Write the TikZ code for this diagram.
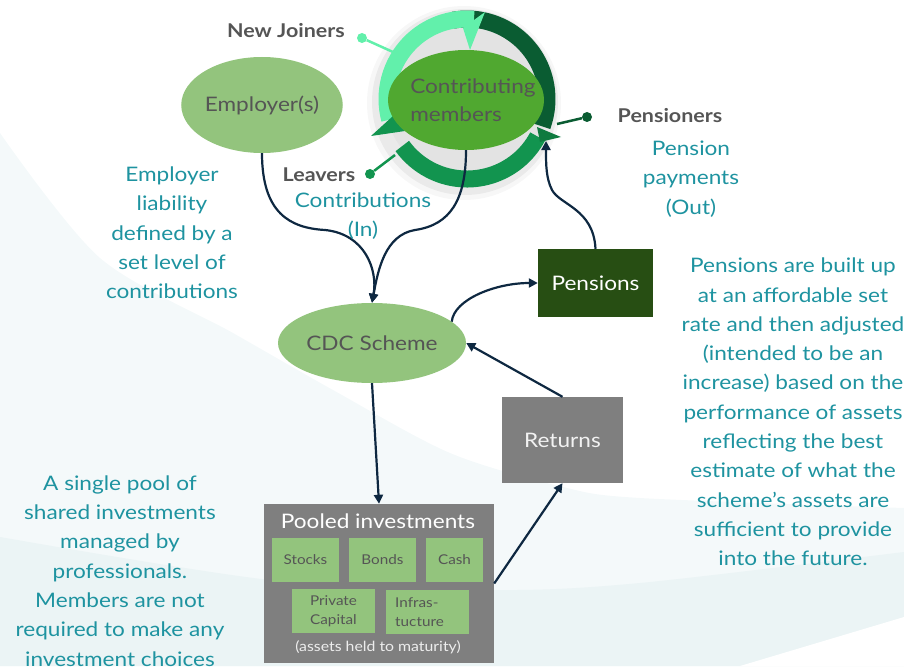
\documentclass[tikz,border=0pt]{standalone}
\usepackage{fontspec}
\setmainfont[FakeStretch=1.13]{Lato}
\usetikzlibrary{arrows.meta,shapes.geometric,calc}

\definecolor{bgA}{HTML}{F4F9FA}
\definecolor{bgB}{HTML}{EBF4F5}
\definecolor{noteTeal}{HTML}{1E93A0}
\definecolor{tagGray}{HTML}{555555}
\definecolor{leafGreen}{HTML}{93C47D}
\definecolor{memberGreen}{HTML}{50A830}
\definecolor{pensionGreen}{HTML}{274E13}
\definecolor{boxGray}{HTML}{7F7F7F}
\definecolor{flowNavy}{HTML}{0E2841}
\definecolor{ringMint}{HTML}{62F0AB}
\definecolor{ringDark}{HTML}{0A5C32}
\definecolor{ringMid}{HTML}{12944F}
\definecolor{ringHead}{HTML}{0E7A3F}
\definecolor{discGray}{HTML}{E3E3E3}

\begin{document}
\begin{tikzpicture}[x=1pt,y=-1pt,
  flow/.style={draw=flowNavy, line width=2.2pt, -{Triangle[length=9pt,width=9pt]}},
  note/.style={text=noteTeal, font=\fontsize{20}{29.3}\selectfont, align=center},
  tag/.style={text=tagGray, font=\bfseries\fontsize{19}{22}\selectfont},
  bubble/.style={ellipse, fill=leafGreen, text=tagGray, inner sep=0pt,
    font=\fontsize{20}{28}\selectfont},
  block/.style={rectangle, inner sep=0pt, font=\fontsize{20}{24}\selectfont},
  asset/.style={rectangle, fill=leafGreen, text=tagGray, inner sep=0pt,
    minimum height=44pt, font=\fontsize{13.5}{19}\selectfont, align=center},
  ringband/.style={line width=17pt},
  pin/.style={circle, inner sep=0pt, minimum size=10pt}
]
\useasboundingbox (0,0) rectangle (904,666);

% soft background bands
\fill[bgA] (0,133) plot[smooth] coordinates {(0,133) (100,258) (233,333) (333,390) (450,453) (563,487) (640,498) (904,508)}
  -- (904,666) -- (0,666) -- cycle;
\fill[bgB] (0,537) plot[smooth] coordinates {(0,537) (270,580) (493,590) (640,583) (904,552)}
  -- (904,666) -- (0,666) -- cycle;
\fill[white] (740,666) -- (904,617) -- (904,666) -- cycle;

% member cycle ring
\coordinate (ringc) at (467,99);
\fill[black, opacity=0.03] ($(ringc)+(-3,4)$) circle[radius=97];
\fill[black, opacity=0.05] ($(ringc)+(-2,3)$) circle[radius=93];
\fill[discGray] (ringc) circle[radius=82];
\draw[ringDark, ringband] ($(ringc)+(-100:80)$) arc[start angle=-100, end angle=20, radius=80];
\draw[ringMid, ringband] ($(ringc)+(28:80)$) arc[start angle=28, end angle=144, radius=80];
\draw[ringMint, ringband] ($(ringc)+(-195:80)$) arc[start angle=-195, end angle=-85, radius=80];
\fill[ringMint] (463,28) -- (485,12) -- (470,50) -- cycle;
\fill[ringHead] (537,127) -- (561,137) -- (540,142) -- cycle;
\fill[ringMid] (371,136) -- (393,116) -- (405,131) -- cycle;

% main nodes
\node[bubble, minimum width=160pt, minimum height=96pt] (emp) at (262,105) {Employer(s)};
\node[bubble, fill=memberGreen, minimum width=156pt, minimum height=100pt] (mem) at (466,100) {};
\node[text=tagGray, font=\fontsize{20}{28}\selectfont, align=left] at (473,100) {Contributing\\members};
\node[bubble, minimum width=188pt, minimum height=80pt] (cdc) at (372,343) {CDC Scheme};
\node[block, fill=pensionGreen, text=white, minimum width=115pt, minimum height=68pt] (pen) at (595.5,283) {Pensions};
\node[block, fill=boxGray, text=white!95!black, minimum width=121pt, minimum height=86pt] (ret) at (562.5,440) {Returns};
\node[block, fill=boxGray, minimum width=230pt, minimum height=159pt] (pool) at (379,583.5) {};
\node[text=white, font=\fontsize{20}{24}\selectfont] (pooltitle) at (378,521) {Pooled investments};
\node[asset, minimum width=67pt] (stocks) at (305.5,560) {Stocks};
\node[asset, minimum width=67pt] (bonds) at (382.5,560) {Bonds};
\node[asset, minimum width=57pt] (cash) at (454.5,560) {Cash};
\node[asset, minimum width=83pt] (private) at (333.5,611) {Private\\Capital};
\node[asset, minimum width=83pt, align=left] (infra) at (427.5,612) {Infras-\\tucture\hspace*{16pt}};
\node[text=white!93!black, font=\fontsize{14}{18}\selectfont] (maturity) at (378,647) {(assets held to maturity)};

% member cycle tags
\node[pin, fill=ringMint] (njdot) at (362,38) {};
\coordinate (njend) at (393,52);
\draw[ringMint, line width=2.5pt] (njdot) -- (njend);
\node[tag] (nj) at (286,31) {New Joiners};

\node[pin, fill=ringMid] (lvdot) at (370,174) {};
\coordinate (lvend) at (395,155);
\draw[ringMid, line width=2.5pt] (lvdot) -- (lvend);
\node[tag] (lv) at (319,175) {Leavers};

\node[pin, fill=ringDark] (psdot) at (587,117) {};
\coordinate (psend) at (557,124);
\draw[ringDark, line width=2.5pt] (psdot) -- (psend);
\node[tag] (ps) at (670,116) {Pensioners};

% flows
\draw[flow] (emp.south) .. controls +(0,60) and (290,228) .. (325,230)
  .. controls (365,234) and (378,270) .. (cdc.north);
\draw[flow] (mem.south) .. controls +(0,50) and (450,225) .. (415,230)
  .. controls (385,235) and (378,270) .. (cdc.north);
\draw[flow] (cdc.15) .. controls +(2,-22) and (495,283) .. (pen.west);
\coordinate (memin) at (546,141);
\draw[flow] (pen.north) .. controls +(-2,-40) and (560,205) .. (552,190)
  .. controls (546,178) and (546,165) .. (memin);
\draw[flow] (cdc.south) -- (pool.north);
\draw[flow] (pool.east) -- (ret.south);
\draw[flow] (ret.north) -- (cdc.east);

% explanatory notes
\node[note] (contrib) at (363,216) {Contributions\\(In)};
\node[note] (liab) at (172,233) {Employer\\liability\\defined by a\\set level of\\contributions};
\node[note] (payout) at (691,179) {Pension\\payments\\(Out)};
\node[note] (basis) at (793,412) {Pensions are built up\\at an affordable set\\rate and then adjusted\\(intended to be an\\increase) based on the\\performance of assets\\reflecting the best\\estimate of what the\\scheme’s assets are\\sufficient to provide\\into the future.};
\node[note] (poolnote) at (120,571) {A single pool of\\shared investments\\managed by\\professionals.\\Members are not\\required to make any\\investment choices};
\end{tikzpicture}
\end{document}
